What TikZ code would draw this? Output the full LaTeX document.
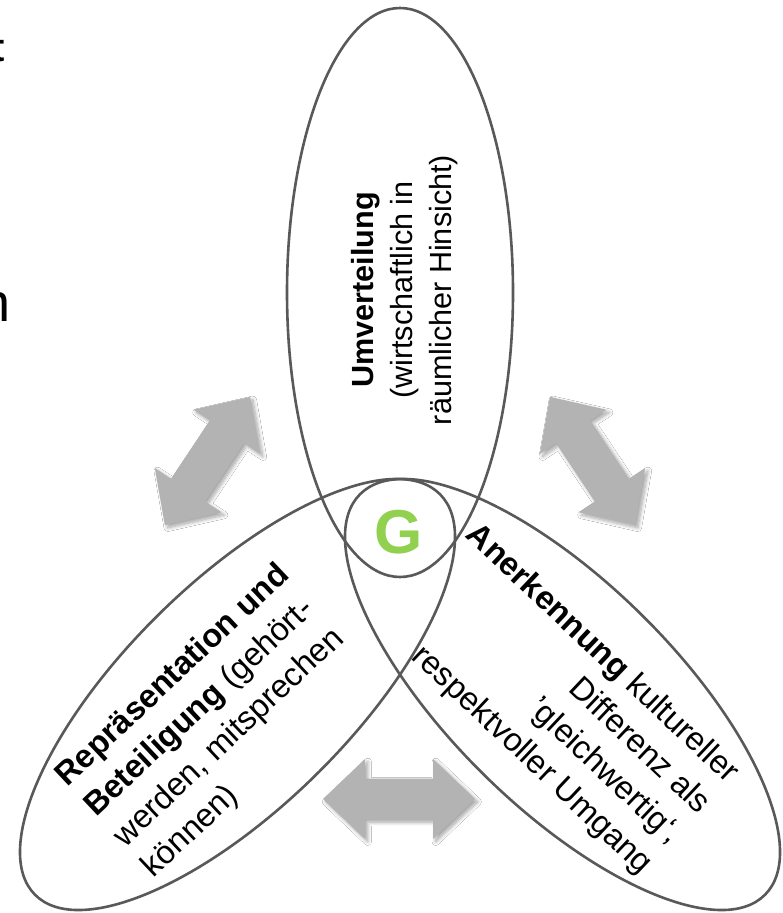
\documentclass[tikz,border=0pt]{standalone}
\usepackage{fontspec}
\setmainfont{Liberation Sans}
\usetikzlibrary{shapes.geometric,shadows.blur}
\definecolor{ringgray}{HTML}{595959}
\definecolor{arrowgray}{HTML}{B3B3B3}
\definecolor{ggreen}{HTML}{92D050}
\tikzset{
  ring/.style={draw=ringgray, line width=1.3pt, ellipse, inner sep=0pt, outer sep=0pt},
  toptext/.style={font=\fontsize{15.3pt}{19.5pt}\selectfont, inner sep=0pt, align=center},
  sidetext/.style={font=\fontsize{16.3pt}{20.9pt}\selectfont, inner sep=0pt},
  fragtext/.style={inner sep=0pt, anchor=base east},
  blockarrow/.style={fill=arrowgray, draw=none,
    blur shadow={shadow xshift=1.4pt, shadow yshift=-1.4pt, shadow blur steps=8, shadow blur radius=1.8pt, shadow opacity=35}},
}
% double block arrow: #1 centre, #2 angle, #3 half length
\newcommand\gdblarrow[3]{%
  \path[blockarrow, shift={(#1)}, rotate=#2]
    (-#3,0) -- (-#3+42,40) -- (-#3+42,20.5) -- (#3-42,20.5) -- (#3-42,40) -- (#3,0)
    -- (#3-42,-40) -- (#3-42,-20.5) -- (-#3+42,-20.5) -- (-#3+42,-40) -- cycle;}
\begin{document}
\begin{tikzpicture}[x=0.5pt,y=0.5pt]
  \useasboundingbox (0,0) rectangle (782,-913);
  \clip (0,0) rectangle (782,-913);
  \fill[white] (0,0) rectangle (782,-913);

  % arrow centres
  \coordinate (aul) at (207.5,-461);
  \coordinate (aur) at (592.5,-461);
  \coordinate (abot) at (399,-799);
  \gdblarrow{aul}{56.4}{77}
  \gdblarrow{aur}{123.6}{77}
  \gdblarrow{abot}{0}{76}

  % ellipses
  \node[ring, minimum width=113pt, minimum height=284.5pt] (umvring) at (400,-292.5) {};
  \node[ring, minimum width=284.8pt, minimum height=112.3pt, rotate=44.64] (repring) at (237.5,-694.5) {};
  \node[ring, minimum width=284.8pt, minimum height=112.3pt, rotate=-44.64] (anring) at (562.5,-694.5) {};

  % centre letter
  \node[font=\fontsize{31pt}{31pt}\selectfont\bfseries, text=ggreen, inner sep=0pt] (g) at (399,-532) {G};

  % texts
  \node[toptext, rotate=90] (umv) at (405,-290)
    {\textbf{Umverteilung}\\(wirtschaftlich in\\räumlicher Hinsicht)};
  \node[sidetext, rotate=43.3, align=left, anchor=north west] (rep) at (51,-770)
    {\textbf{Repräsentation und}\\\textbf{Beteiligung} (gehört-\\werden, mitsprechen\\können)};
  \node[sidetext, rotate=-43.3, align=right, anchor=north east] (aner) at (744,-767)
    {\textbf{Anerkennung} kultureller\\Differenz als\\’gleichwertig‘,\\respektvoller Umgang};

  % cut-off fragments at the left edge
  \node[fragtext, font=\fontsize{20pt}{20pt}\selectfont\bfseries] (fragt) at (5,-62) {t};
  \node[fragtext, font=\fontsize{27pt}{27pt}\selectfont] (fragn) at (11,-322) {n};
\end{tikzpicture}
\end{document}
